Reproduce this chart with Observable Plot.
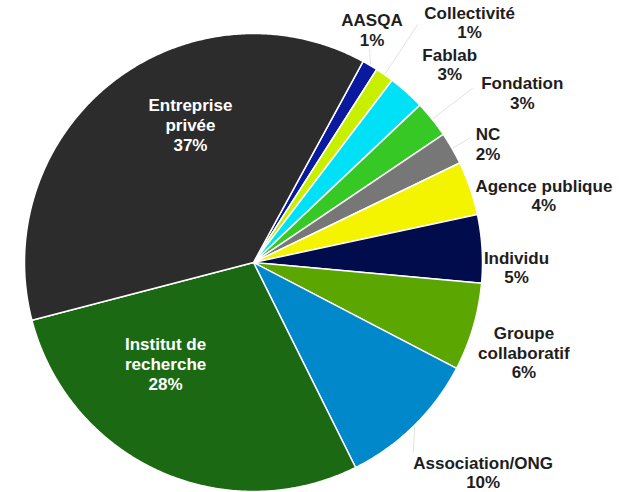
<!DOCTYPE html>
<html>
<head>
<meta charset="utf-8">
<script src="https://cdn.jsdelivr.net/npm/d3@7"></script>
<script src="https://cdn.jsdelivr.net/npm/@observablehq/plot@0.6"></script>
<style>
  html, body { margin: 0; padding: 0; background: #fff; }
  #chart svg { display: block; }
</style>
</head>
<body>
<div id="chart"></div>
<script>
// ---- Data (clockwise from the first slice) ----
const categories = ["AASQA", "Collectivité", "Fablab", "Fondation", "NC", "Agence publique",
  "Individu", "Groupe collaboratif", "Association/ONG", "Institut de recherche", "Entreprise privée"];
const shares = [1.1, 1.3, 2.6, 2.6, 2.3, 3.8, 4.8, 6.2, 10.0, 28.3, 37.0];
const percentLabels = ["1%", "1%", "3%", "3%", "2%", "4%", "5%", "6%", "10%", "28%", "37%"];
const labelLines = [["AASQA"], ["Collectivité"], ["Fablab"], ["Fondation"], ["NC"], ["Agence publique"],
  ["Individu"], ["Groupe", "collaboratif"], ["Association/ONG"], ["Institut de", "recherche"], ["Entreprise", "privée"]];
const colors = ["#0a1a9e", "#c8ee00", "#00e1f7", "#36c824", "#777777", "#f4f400",
  "#000c4c", "#5ba600", "#0088cb", "#1b6a13", "#2c2c2c"];

// ---- Layout ----
const W = 630, H = 492;
const cx = 253, cy = 262, R = 229;
const startDeg = 28.6;
// label placement: [angle (deg, clockwise from top), distance from centre (px)]
const labelPos = [[27, 261], [42.0, 323], [44.7, 279], [57.7, 318], [63.1, 263], [77.0, 298],
  [91, 263], [108.4, 285], [132.4, 311], [221, 134], [335.5, 152]];
const inside = [false, false, false, false, false, false, false, false, false, true, true];
// leader lines: index -> [end angle, end distance]
const leaders = [[0, 28.5, 243], [1, 34.6, 289], [3, 51.5, 280], [4, 60.1, 250], [8, 139.9, 248]];

const rad = d => d * Math.PI / 180;
const polar = (a, r) => ({x: cx + r * Math.sin(a), y: cy - r * Math.cos(a)});

const pie = d3.pie().sort(null).value(d => d)
  .startAngle(rad(startDeg)).endAngle(rad(startDeg) + 2 * Math.PI)(shares);

// slice outlines
const slicePts = [];
pie.forEach((p, i) => {
  const n = Math.max(4, Math.ceil((p.endAngle - p.startAngle) / rad(0.5)));
  slicePts.push({...polar(0, 0), k: i, c: colors[i]});
  for (let j = 0; j <= n; j++) {
    const a = p.startAngle + (p.endAngle - p.startAngle) * j / n;
    slicePts.push({...polar(a, R), k: i, c: colors[i]});
  }
});

const labels = categories.map((c, i) => {
  const [a, d] = labelPos[i];
  return {...polar(rad(a), d), text: labelLines[i].join("\n") + "\n" + percentLabels[i], inside: inside[i]};
});

const leaderPts = [];
leaders.forEach(([i, a, d]) => {
  const p = pie[i];
  const mid = (p.startAngle + p.endAngle) / 2;
  leaderPts.push({...polar(mid, R + 1), k: i});
  leaderPts.push({...polar(rad(a), d), k: i});
});

const font = "Liberation Sans, Arial, sans-serif";
const chart = Plot.plot({
  width: W, height: H,
  margin: 0,
  x: {domain: [0, W], axis: null},
  y: {domain: [0, H], range: [0, H], axis: null},
  color: {type: "identity"},
  marks: [
    Plot.line(leaderPts, {x: "x", y: "y", z: "k", stroke: "#e2e2e2", strokeWidth: 1}),
    Plot.line(slicePts, {x: "x", y: "y", z: "k", fill: "c", stroke: "#fff", strokeWidth: 1.5,
      strokeLinejoin: "round", curve: "linear-closed"}),
    Plot.text(labels.filter(d => !d.inside), {x: "x", y: "y", text: "text", fill: "#1e1e1e",
      fontSize: 17, fontWeight: "bold", fontFamily: font,
      lineAnchor: "middle", lineHeight: 1.15}),
    Plot.text(labels.filter(d => d.inside), {x: "x", y: "y", text: "text", fill: "#fff",
      fontSize: 17, fontWeight: "bold", fontFamily: font,
      lineAnchor: "middle", lineHeight: 1.18})
  ]
});
document.getElementById("chart").appendChild(chart);
</script>
</body>
</html>
